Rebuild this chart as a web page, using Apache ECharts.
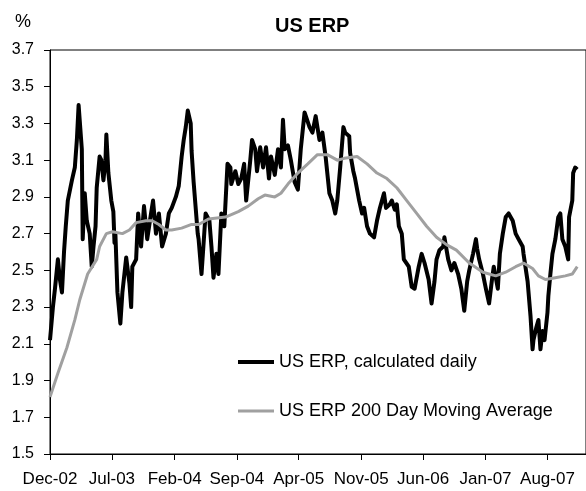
<!DOCTYPE html>
<html>
<head>
<meta charset="utf-8">
<script src="https://cdn.jsdelivr.net/npm/echarts/dist/echarts.min.js"></script>
<style>
  html, body { margin: 0; padding: 0; background: #fff; }
  #main { width: 586px; height: 491px; }
</style>
</head>
<body>
<div id="main"></div>
<script>
// axis ticks (every 7 months)
var tickDates = ['2002-12-01', '2003-07-01', '2004-02-01', '2004-09-01', '2005-04-01',
  '2005-11-01', '2006-06-01', '2007-01-01', '2007-08-01'];
var tickLabels = ['Dec-02', 'Jul-03', 'Feb-04', 'Sep-04', 'Apr-05', 'Nov-05', 'Jun-06', 'Jan-07', 'Aug-07'];

// US ERP, calculated daily
var erpDaily = [
  ['2002-12-01', 2.12], ['2002-12-11', 2.30], ['2002-12-18', 2.40], ['2002-12-28', 2.56],
  ['2003-01-04', 2.45], ['2003-01-11', 2.38], ['2003-01-18', 2.60], ['2003-01-24', 2.74],
  ['2003-01-31', 2.88], ['2003-02-14', 2.99], ['2003-02-24', 3.06], ['2003-03-03', 3.21],
  ['2003-03-09', 3.40], ['2003-03-20', 3.16], ['2003-03-23', 2.67], ['2003-03-30', 2.92],
  ['2003-04-06', 2.77], ['2003-04-16', 2.70], ['2003-04-23', 2.52], ['2003-04-29', 2.63],
  ['2003-05-06', 2.74], ['2003-05-10', 2.95], ['2003-05-20', 3.12], ['2003-05-26', 3.10],
  ['2003-06-02', 2.99], ['2003-06-09', 3.10], ['2003-06-12', 3.24], ['2003-06-19', 3.03],
  ['2003-06-29', 2.88], ['2003-07-06', 2.82], ['2003-07-10', 2.65], ['2003-07-13', 2.70],
  ['2003-07-20', 2.38], ['2003-07-30', 2.21], ['2003-08-06', 2.38], ['2003-08-19', 2.57],
  ['2003-08-30', 2.43], ['2003-09-05', 2.30], ['2003-09-09', 2.52], ['2003-09-22', 2.56],
  ['2003-09-29', 2.81], ['2003-10-09', 2.63], ['2003-10-19', 2.85], ['2003-10-30', 2.67],
  ['2003-11-12', 2.81], ['2003-11-19', 2.88], ['2003-11-29', 2.70], ['2003-12-09', 2.81],
  ['2003-12-20', 2.63], ['2004-01-02', 2.70], ['2004-01-12', 2.81], ['2004-01-22', 2.84],
  ['2004-02-05', 2.90], ['2004-02-15', 2.96], ['2004-02-25', 3.12], ['2004-03-03', 3.21],
  ['2004-03-10', 3.28], ['2004-03-17', 3.37], ['2004-03-27', 3.30], ['2004-03-30', 3.15],
  ['2004-04-06', 2.98], ['2004-04-13', 2.84], ['2004-04-20', 2.70], ['2004-04-23', 2.67],
  ['2004-05-03', 2.48], ['2004-05-17', 2.81], ['2004-05-30', 2.77], ['2004-06-06', 2.63],
  ['2004-06-13', 2.46], ['2004-06-23', 2.59], ['2004-06-30', 2.48], ['2004-07-10', 2.81],
  ['2004-07-20', 2.74], ['2004-07-31', 3.08], ['2004-08-10', 3.06], ['2004-08-13', 2.97],
  ['2004-08-27', 3.04], ['2004-09-06', 2.97], ['2004-09-16', 3.00], ['2004-09-26', 3.08],
  ['2004-10-03', 2.88], ['2004-10-17', 3.10], ['2004-10-23', 3.21], ['2004-11-03', 3.16],
  ['2004-11-09', 3.04], ['2004-11-20', 3.17], ['2004-11-30', 3.06], ['2004-12-10', 3.17],
  ['2004-12-20', 3.00], ['2004-12-27', 3.12], ['2005-01-09', 3.02], ['2005-01-20', 3.16],
  ['2005-01-30', 3.06], ['2005-02-06', 3.32], ['2005-02-12', 3.16], ['2005-02-23', 3.18],
  ['2005-03-05', 3.10], ['2005-03-18', 2.98], ['2005-03-29', 2.94], ['2005-04-08', 3.16],
  ['2005-04-21', 3.36], ['2005-05-08', 3.28], ['2005-05-18', 3.25], ['2005-05-29', 3.34],
  ['2005-06-11', 3.21], ['2005-06-21', 3.25], ['2005-07-02', 3.12], ['2005-07-15', 2.92],
  ['2005-07-25', 2.88], ['2005-08-04', 2.81], ['2005-08-11', 2.88], ['2005-08-21', 3.06],
  ['2005-09-01', 3.28], ['2005-09-07', 3.25], ['2005-09-21', 3.23], ['2005-09-24', 3.14],
  ['2005-10-05', 3.04], ['2005-10-11', 3.00], ['2005-10-25', 2.88], ['2005-11-04', 2.81],
  ['2005-11-11', 2.84], ['2005-11-21', 2.74], ['2005-12-01', 2.70], ['2005-12-15', 2.68],
  ['2005-12-25', 2.77], ['2006-01-04', 2.84], ['2006-01-18', 2.92], ['2006-01-25', 2.84],
  ['2006-02-07', 2.86], ['2006-02-14', 2.88], ['2006-02-24', 2.83], ['2006-03-03', 2.86],
  ['2006-03-10', 2.74], ['2006-03-20', 2.70], ['2006-03-27', 2.56], ['2006-04-13', 2.52],
  ['2006-04-23', 2.41], ['2006-05-03', 2.40], ['2006-05-17', 2.52], ['2006-05-27', 2.59],
  ['2006-06-06', 2.54], ['2006-06-20', 2.45], ['2006-06-30', 2.32], ['2006-07-10', 2.44],
  ['2006-07-17', 2.56], ['2006-07-27', 2.61], ['2006-08-09', 2.63], ['2006-08-13', 2.68],
  ['2006-08-26', 2.56], ['2006-09-06', 2.50], ['2006-09-16', 2.54], ['2006-09-29', 2.48],
  ['2006-10-10', 2.40], ['2006-10-20', 2.28], ['2006-10-30', 2.44], ['2006-11-06', 2.50],
  ['2006-11-19', 2.59], ['2006-11-29', 2.67], ['2006-12-03', 2.62], ['2006-12-10', 2.56],
  ['2006-12-23', 2.48], ['2007-01-02', 2.40], ['2007-01-13', 2.32], ['2007-01-23', 2.45],
  ['2007-01-29', 2.52], ['2007-02-12', 2.40], ['2007-02-19', 2.59], ['2007-03-01', 2.70],
  ['2007-03-11', 2.79], ['2007-03-21', 2.81], ['2007-04-04', 2.77], ['2007-04-14', 2.70],
  ['2007-04-24', 2.67], ['2007-05-08', 2.63], ['2007-05-11', 2.59], ['2007-05-25', 2.44],
  ['2007-06-04', 2.25], ['2007-06-11', 2.07], ['2007-06-14', 2.12], ['2007-06-24', 2.19],
  ['2007-07-01', 2.23], ['2007-07-08', 2.07], ['2007-07-15', 2.17], ['2007-07-22', 2.12],
  ['2007-08-01', 2.27], ['2007-08-04', 2.36], ['2007-08-11', 2.48], ['2007-08-18', 2.59],
  ['2007-08-28', 2.67], ['2007-09-07', 2.79], ['2007-09-14', 2.81], ['2007-09-21', 2.67],
  ['2007-10-01', 2.63], ['2007-10-11', 2.56], ['2007-10-14', 2.79], ['2007-10-25', 2.88],
  ['2007-10-28', 3.03], ['2007-11-04', 3.06], ['2007-11-11', 3.05]
];

// US ERP 200 Day Moving Average
var erpMovingAvg = [
  ['2002-12-01', 1.81], ['2002-12-28', 1.94], ['2003-01-28', 2.08], ['2003-02-24', 2.23],
  ['2003-03-13', 2.34], ['2003-04-09', 2.48], ['2003-05-10', 2.56], ['2003-05-20', 2.63],
  ['2003-06-12', 2.70], ['2003-07-03', 2.71], ['2003-08-06', 2.70], ['2003-08-30', 2.72],
  ['2003-09-22', 2.76], ['2003-10-26', 2.77], ['2003-11-16', 2.77], ['2003-12-09', 2.75],
  ['2004-01-02', 2.72], ['2004-01-22', 2.72], ['2004-02-25', 2.73], ['2004-03-30', 2.75],
  ['2004-04-23', 2.75], ['2004-05-27', 2.78], ['2004-07-24', 2.79], ['2004-09-06', 2.82],
  ['2004-10-10', 2.85], ['2004-11-13', 2.89], ['2004-12-06', 2.91], ['2005-01-09', 2.90],
  ['2005-01-30', 2.92], ['2005-02-23', 2.97], ['2005-03-29', 3.03], ['2005-05-02', 3.08],
  ['2005-06-04', 3.13], ['2005-07-08', 3.13], ['2005-08-11', 3.10], ['2005-09-04', 3.11],
  ['2005-10-18', 3.12], ['2005-11-21', 3.08], ['2005-12-25', 3.03], ['2006-01-28', 3.00],
  ['2006-03-03', 2.95], ['2006-04-06', 2.88], ['2006-05-10', 2.81], ['2006-06-13', 2.74],
  ['2006-07-17', 2.68], ['2006-08-20', 2.64], ['2006-09-23', 2.61], ['2006-11-06', 2.54],
  ['2006-12-23', 2.49], ['2007-02-05', 2.47], ['2007-03-11', 2.49], ['2007-04-14', 2.52],
  ['2007-05-11', 2.54], ['2007-06-11', 2.51], ['2007-07-01', 2.47], ['2007-07-25', 2.45],
  ['2007-08-28', 2.46], ['2007-10-01', 2.47], ['2007-10-25', 2.48], ['2007-11-11', 2.52]
];

function toTime(s) {
  var p = s.split('-');
  return new Date(+p[0], +p[1] - 1, +p[2]).getTime();
}

var tickTimes = tickDates.map(toTime);
var labelByTime = {};
tickTimes.forEach(function (t, i) { labelByTime[t] = tickLabels[i]; });

var font = 'Liberation Sans, Arial, sans-serif';
var chartDom = document.getElementById('main');
var myChart = echarts.init(chartDom);

var option = {
  animation: false,
  title: [
    {
      text: 'US ERP',
      left: 270,
      top: 11,
      textStyle: { fontFamily: font, fontSize: 20, fontWeight: 'bold', color: '#000' }
    },
    {
      text: '%',
      left: 10,
      top: 8,
      textStyle: { fontFamily: font, fontSize: 18, fontWeight: 'normal', color: '#000' }
    }
  ],
  legend: {
    orient: 'vertical',
    left: 231,
    top: 348,
    itemWidth: 36,
    itemHeight: 14,
    itemGap: 31,
    selectedMode: false,
    itemStyle: { opacity: 0 },
    lineStyle: { width: 'inherit' },
    textStyle: { fontFamily: font, fontSize: 18, color: '#000' },
    data: ['US ERP, calculated daily', 'US ERP 200 Day Moving Average']
  },
  grid: {
    left: 50,
    right: -5,
    top: 50,
    bottom: 37,
    show: true,
    borderColor: '#000',
    borderWidth: 1
  },
  xAxis: {
    type: 'value',
    min: tickTimes[0],
    max: toTime('2007-12-11'),
    axisLine: { lineStyle: { color: '#000', width: 1 } },
    axisTick: { show: true, length: 6, customValues: tickTimes, lineStyle: { color: '#000', width: 1 } },
    splitLine: { show: false },
    axisLabel: {
      customValues: tickTimes,
      margin: 17,
      color: '#000',
      fontFamily: font,
      fontSize: 17,
      formatter: function (value) {
        return labelByTime[value] || '';
      }
    }
  },
  yAxis: {
    type: 'value',
    min: 1.5,
    max: 3.7,
    interval: 0.2,
    axisLine: { show: true, lineStyle: { color: '#000', width: 1 } },
    axisTick: { show: true, length: 6, lineStyle: { color: '#000' } },
    splitLine: { show: false },
    axisLabel: {
      margin: 16,
      color: '#000',
      fontFamily: font,
      fontSize: 16,
      formatter: function (v) { return v.toFixed(1); }
    }
  },
  series: [
    {
      name: 'US ERP, calculated daily',
      type: 'line',
      symbol: 'none',
      data: erpDaily.map(function (d) { return [toTime(d[0]), d[1]]; }),
      lineStyle: { color: '#000', width: 4, join: 'round' },
      itemStyle: { color: '#000' }
    },
    {
      name: 'US ERP 200 Day Moving Average',
      type: 'line',
      symbol: 'none',
      data: erpMovingAvg.map(function (d) { return [toTime(d[0]), d[1]]; }),
      lineStyle: { color: '#a0a0a0', width: 3 },
      itemStyle: { color: '#a0a0a0' }
    }
  ]
};

myChart.setOption(option);
</script>
</body>
</html>
